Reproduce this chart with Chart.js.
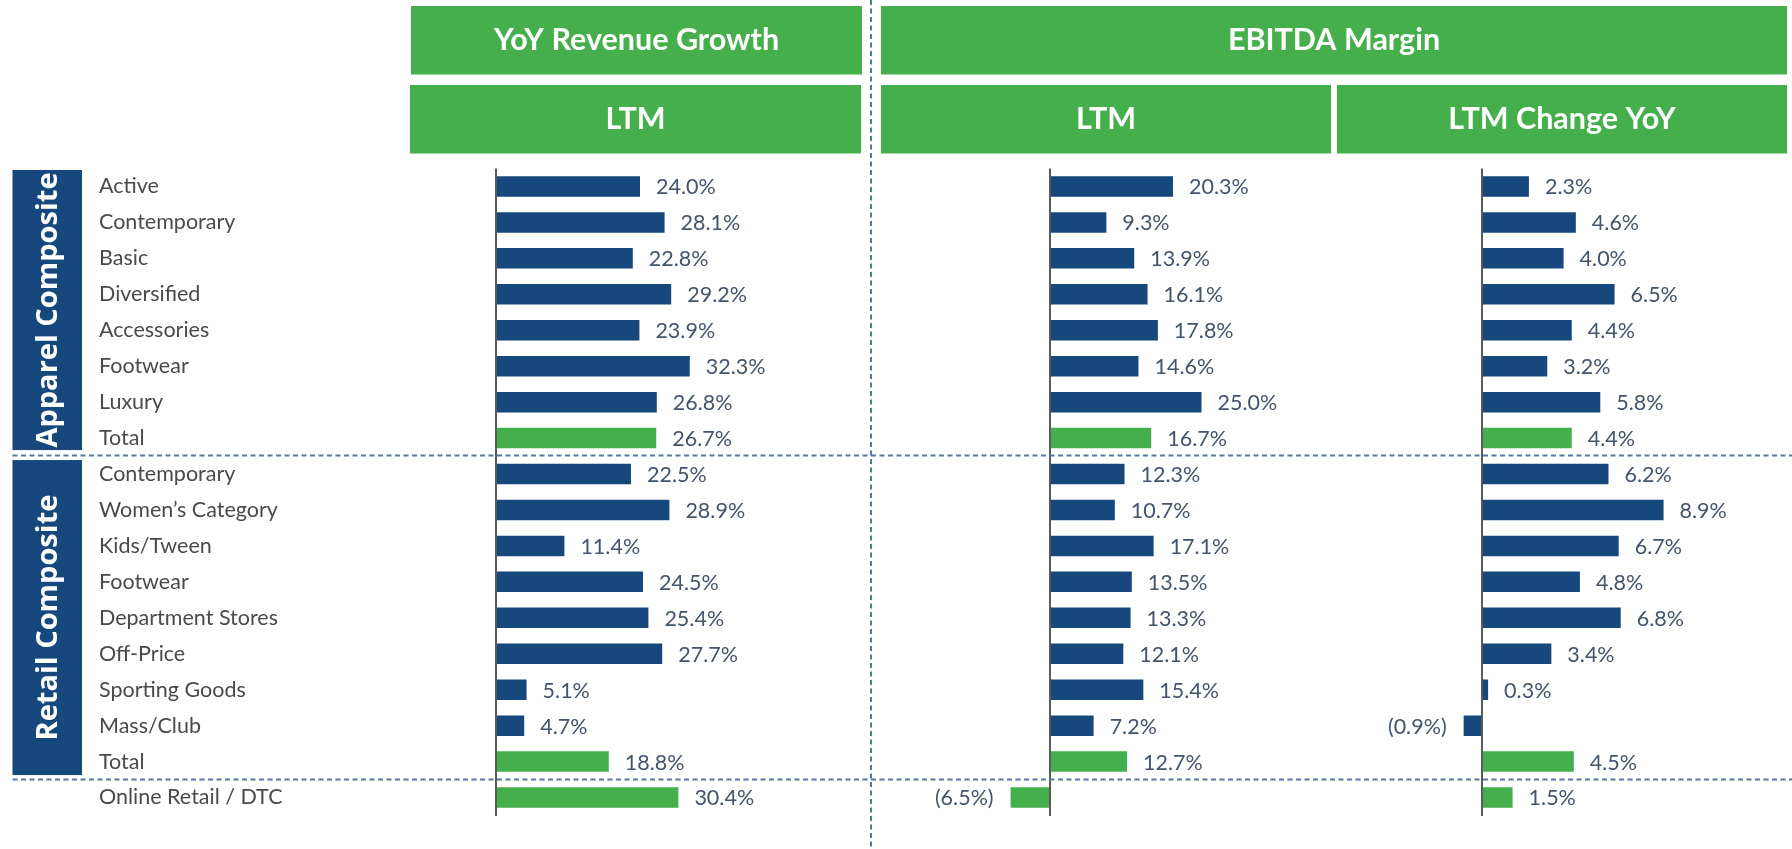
<!DOCTYPE html>
<html>
<head>
<meta charset="utf-8">
<title>Apparel &amp; Retail Composites – Growth and Margins</title>
<script src="https://cdn.jsdelivr.net/npm/chart.js@4/dist/chart.umd.min.js"></script>
<style>
  html, body { margin: 0; padding: 0; background: #ffffff; overflow: hidden; }
  #wrap { position: relative; width: 1792px; height: 849px; }
  canvas { display: block; }
</style>
</head>
<body>
<div id="wrap"><canvas id="chart" width="1792" height="849"></canvas></div>
<script>
// ---- Data ----------------------------------------------------------------
const categories = [
  'Active', 'Contemporary', 'Basic', 'Diversified', 'Accessories', 'Footwear', 'Luxury', 'Total',
  'Contemporary', 'Women\u2019s Category', 'Kids/Tween', 'Footwear', 'Department Stores', 'Off-Price',
  'Sporting Goods', 'Mass/Club', 'Total',
  'Online Retail / DTC'
];
// YoY revenue growth, LTM (%)
const revenueGrowthLTM = [24.0, 28.1, 22.8, 29.2, 23.9, 32.3, 26.8, 26.7,
                          22.5, 28.9, 11.4, 24.5, 25.4, 27.7, 5.1, 4.7, 18.8,
                          30.4];
// EBITDA margin, LTM (%)
const ebitdaMarginLTM = [20.3, 9.3, 13.9, 16.1, 17.8, 14.6, 25.0, 16.7,
                         12.3, 10.7, 17.1, 13.5, 13.3, 12.1, 15.4, 7.2, 12.7,
                         -6.5];
// EBITDA margin, LTM change YoY (percentage points)
const ebitdaMarginChangeYoY = [2.3, 4.6, 4.0, 6.5, 4.4, 3.2, 5.8, 4.4,
                               6.2, 8.9, 6.7, 4.8, 6.8, 3.4, 0.3, -0.9, 4.5,
                               1.5];
// rows shown as totals (green)
const totalRows = [7, 16, 17];
// composite groupings: [name, first row, last row]
const composites = [
  ['Apparel Composite', 0, 7],
  ['Retail Composite', 8, 16]
];
// column headers
const topHeaders = ['YoY Revenue Growth', 'EBITDA Margin'];
const subHeaders = ['LTM', 'LTM', 'LTM Change YoY'];

// ---- Styling ---------------------------------------------------------------
const BLUE = '#17487D';
const GREEN = '#45B04B';
const AXIS_COLOR = '#5a5a5a';
const DASH_COLOR = '#5478A6';
const LABEL_COLOR = '#4a4a4a';
const VALUE_COLOR = '#44546A';
const FONT = 'Lato, "Open Sans", sans-serif';

const W = 1792, H = 849;
const PLOT_LEFT = 496, PLOT_RIGHT = W;
const PLOT_TOP = 168.5, PLOT_BOTTOM = 815.5;
const LABEL_LEFT = 99;

// zero-line position and pixels per percentage point of each panel
const panels = {
  xRev:    { zero: 496,  ppu: 6.0 },
  xMargin: { zero: 1050, ppu: 6.06 },
  xChange: { zero: 1482, ppu: 20.4 }
};

function barColors(values) {
  return values.map((_, i) => totalRows.includes(i) ? GREEN : BLUE);
}

function fmtPct(v) {
  const s = Math.abs(v).toFixed(1) + '%';
  return v < 0 ? '(' + s + ')' : s;
}

function panelScale(id) {
  const p = panels[id];
  return {
    type: 'linear',
    position: 'bottom',
    min: (PLOT_LEFT - p.zero) / p.ppu,
    max: (PLOT_RIGHT - p.zero) / p.ppu,
    afterBuildTicks: s => { s.ticks = [{ value: 0 }]; },
    afterFit: s => { s.height = 0; },
    ticks: { display: false },
    border: { display: false },
    grid: { color: AXIS_COLOR, lineWidth: 2, drawTicks: false }
  };
}

// ---- Decorations: headers, composite tags, dashed separators, values -------
const decorations = {
  id: 'decorations',
  beforeDatasetsDraw(chart) {
    const ctx = chart.ctx;
    const y = chart.scales.y;
    const half = (y.getPixelForValue(1) - y.getPixelForValue(0)) / 2;

    ctx.save();
    // header boxes
    const boxes = [
      [411, 6, 451, 68.5, topHeaders[0]],
      [881, 6, 906, 68.5, topHeaders[1]],
      [410, 85, 451, 68.5, subHeaders[0]],
      [881, 85, 450, 68.5, subHeaders[1]],
      [1337, 85, 450, 68.5, subHeaders[2]]
    ];
    ctx.textAlign = 'center';
    ctx.textBaseline = 'middle';
    boxes.forEach(([bx, by, bw, bh, text]) => {
      ctx.fillStyle = GREEN;
      ctx.fillRect(bx, by, bw, bh);
      ctx.fillStyle = '#ffffff';
      ctx.font = 'bold 30.5px ' + FONT;
      ctx.fillText(text, bx + bw / 2, by + bh / 2);
    });

    // composite tags on the left
    composites.forEach(([name, r0, r1], k) => {
      const top = y.getPixelForValue(r0) - half + (k === 0 ? 1.5 : 4);
      const bottom = y.getPixelForValue(r1) + half - (k === 0 ? 6 : 4.5);
      ctx.fillStyle = BLUE;
      ctx.fillRect(12.5, top, 69.5, bottom - top);
      ctx.save();
      ctx.translate(12.5 + 69.5 / 2 + 1, (top + bottom) / 2);
      ctx.rotate(-Math.PI / 2);
      ctx.fillStyle = '#ffffff';
      ctx.font = 'bold 29px "Open Sans", sans-serif';
      ctx.textAlign = 'center';
      ctx.textBaseline = 'middle';
      ctx.fillText(name, 0, 0);
      ctx.restore();
    });

    // dashed separators
    ctx.strokeStyle = DASH_COLOR;
    ctx.lineWidth = 2;
    ctx.setLineDash([5, 3.5]);
    [composites[0][2], composites[1][2]].forEach(r => {
      const sy = Math.round(y.getPixelForValue(r) + half) - 0.5;
      ctx.beginPath();
      ctx.moveTo(12.5, sy);
      ctx.lineTo(W, sy);
      ctx.stroke();
    });
    ctx.beginPath();
    ctx.moveTo(871, 0);
    ctx.lineTo(871, H);
    ctx.stroke();
    ctx.restore();
  },
  afterDatasetsDraw(chart) {
    const ctx = chart.ctx;
    ctx.save();
    ctx.font = '21.5px ' + FONT;
    ctx.fillStyle = VALUE_COLOR;
    ctx.textBaseline = 'middle';
    chart.data.datasets.forEach((ds, di) => {
      const meta = chart.getDatasetMeta(di);
      meta.data.forEach((bar, i) => {
        const v = ds.data[i];
        if (v < 0) {
          ctx.textAlign = 'right';
          ctx.fillText(fmtPct(v), bar.x - 17, bar.y + 1);
        } else {
          ctx.textAlign = 'left';
          ctx.fillText(fmtPct(v), bar.x + 16, bar.y + 1);
        }
      });
    });
    ctx.restore();
  }
};

// ---- Chart -----------------------------------------------------------------
const barShape = { grouped: false, categoryPercentage: 1, barPercentage: 0.57, borderWidth: 0 };

new Chart(document.getElementById('chart'), {
  type: 'bar',
  data: {
    labels: categories,
    datasets: [
      Object.assign({ label: 'YoY Revenue Growth – LTM', data: revenueGrowthLTM, xAxisID: 'xRev',
        backgroundColor: barColors(revenueGrowthLTM) }, barShape),
      Object.assign({ label: 'EBITDA Margin – LTM', data: ebitdaMarginLTM, xAxisID: 'xMargin',
        backgroundColor: barColors(ebitdaMarginLTM) }, barShape),
      Object.assign({ label: 'EBITDA Margin – LTM Change YoY', data: ebitdaMarginChangeYoY, xAxisID: 'xChange',
        backgroundColor: barColors(ebitdaMarginChangeYoY) }, barShape)
    ]
  },
  options: {
    indexAxis: 'y',
    responsive: false,
    animation: false,
    events: [],
    layout: { padding: { left: LABEL_LEFT, right: W - PLOT_RIGHT, top: PLOT_TOP, bottom: H - PLOT_BOTTOM } },
    plugins: { legend: { display: false }, tooltip: { enabled: false }, title: { display: false } },
    scales: {
      y: {
        type: 'category',
        position: 'left',
        afterFit: s => { s.width = PLOT_LEFT - LABEL_LEFT; },
        grid: { display: false },
        border: { display: false },
        ticks: {
          autoSkip: false,
          crossAlign: 'far',
          padding: 0,
          color: LABEL_COLOR,
          font: { family: FONT, size: 21.5 }
        }
      },
      xRev: panelScale('xRev'),
      xMargin: panelScale('xMargin'),
      xChange: panelScale('xChange')
    }
  },
  plugins: [decorations]
});
</script>
</body>
</html>
